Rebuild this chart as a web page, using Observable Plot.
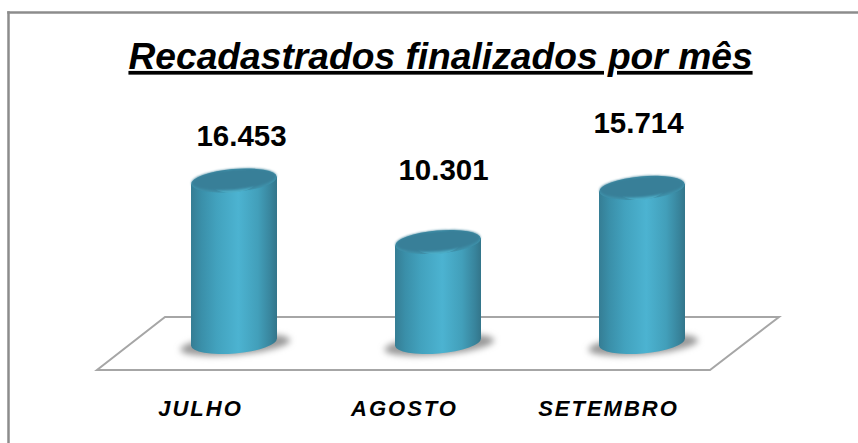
<!DOCTYPE html>
<html><head><meta charset="utf-8">
<script src="https://cdn.jsdelivr.net/npm/d3@7"></script>
<script src="https://cdn.jsdelivr.net/npm/@observablehq/plot@0.6"></script>
<style>html,body{margin:0;padding:0;background:#fff}svg{display:block}</style>
</head><body><div id="chart"></div>
<script>
const chartTitle = "Recadastrados finalizados por mês";
const categories = ["JULHO", "AGOSTO", "SETEMBRO"];
const values = [16453, 10301, 15714];
const valueLabels = ["16.453", "10.301", "15.714"];
const table = categories.map((month, i) => ({month, value: values[i], label: valueLabels[i]}));

const FONT = "Liberation Sans, Arial, sans-serif";
const NS = "http://www.w3.org/2000/svg";
const TILT = 5, RY = 11.5;

function el(doc, name, attrs) {
  const n = doc.createElementNS(NS, name);
  for (const k in attrs) n.setAttribute(k, attrs[k]);
  return n;
}

// Floor plane, placed from the x and y scales
function floor(index, scales, values, dims, context) {
  const doc = context.document;
  const base = scales.y(0);
  const left = scales.x(categories[0]);
  const right = scales.x(categories[categories.length - 1]) + 86;
  const pts = [[left - 94, base + 25], [right + 25, base + 25], [right + 94, base - 28], [left - 26, base - 28]];
  return el(doc, "polygon", {points: pts.join(" "), fill: "#fff", stroke: "#a6a6a6", "stroke-width": 2});
}

// Turns each bar the library drew into a cylinder
function cylinder(index, scales, vals, dims, context, next) {
  const g = next(index, scales, vals, dims, context);
  const doc = context.document;
  const defs = el(doc, "defs", {});
  const grad = el(doc, "linearGradient", {id: "body", x1: 0, x2: 1, y1: 0, y2: 0});
  [[0, "#357d94"], [0.12, "#3a8fa9"], [0.3, "#42a2be"], [0.55, "#4cb3d1"], [0.78, "#429fba"], [0.93, "#38849c"], [1, "#33758a"]]
    .forEach(([o, c]) => grad.appendChild(el(doc, "stop", {offset: o, "stop-color": c})));
  defs.appendChild(grad);
  const blur = el(doc, "filter", {id: "soft", x: "-30%", y: "-80%", width: "160%", height: "260%"});
  blur.appendChild(el(doc, "feGaussianBlur", {stdDeviation: 3}));
  defs.appendChild(blur);
  const blur2 = el(doc, "filter", {id: "soft2", x: "-10%", y: "-30%", width: "120%", height: "160%"});
  blur2.appendChild(el(doc, "feGaussianBlur", {stdDeviation: 1.2}));
  defs.appendChild(blur2);
  g.insertBefore(defs, g.firstChild);
  for (const rect of [...g.querySelectorAll("rect")]) {
    const x = +rect.getAttribute("x"), w = +rect.getAttribute("width");
    const top = +rect.getAttribute("y"), h = +rect.getAttribute("height");
    const cx = x + w / 2, a = w / 2, dy = a * Math.sin(TILT * Math.PI / 180);
    const bot = top + h - 3;
    const rot = `rotate(${-TILT} ${cx} ${top})`;
    g.insertBefore(el(doc, "ellipse", {cx: cx + 1, cy: bot + 3, rx: a + 12, ry: RY - 1.5, fill: "#999999", filter: "url(#soft)",
      transform: `rotate(${-TILT} ${cx} ${bot})`}), rect);
    const body = el(doc, "path", {fill: "url(#body)",
      d: `M${x} ${top + dy}L${x} ${bot + dy}A${a} ${RY} ${-TILT} 0 0 ${x + w} ${bot - dy}L${x + w} ${top - dy}Z`});
    g.insertBefore(body, rect);
    g.insertBefore(el(doc, "ellipse", {cx, cy: top, rx: a, ry: RY, fill: "#3f92ab", transform: rot}), rect);
    g.insertBefore(el(doc, "ellipse", {cx, cy: top + 0.6, rx: a * 0.55, ry: RY, fill: "#4db0ca", transform: rot}), rect);
    g.insertBefore(el(doc, "ellipse", {cx, cy: top - 1, rx: a - 0.5, ry: RY - 1, fill: "#397f98", filter: "url(#soft2)", transform: rot}), rect);
    rect.remove();
  }
  return g;
}

function textStyle(style) {
  return (index, scales, vals, dims, context, next) => {
    const g = next(index, scales, vals, dims, context);
    g.querySelectorAll("text").forEach(t => Object.assign(t.style, style));
    return g;
  };
}

const labelOffsets = {JULHO: [7, -44], AGOSTO: [5, -72], SETEMBRO: [-4, -65]};

const plot = Plot.plot({
  width: 858, height: 443,
  marginLeft: 8, marginTop: 12, marginRight: 0, marginBottom: 0,
  x: {domain: categories, range: [73, 803], padding: 0.578, axis: null},
  y: {domain: [0, 20000], range: [345, 145], axis: null},
  marks: [
    Plot.frame({anchor: "top", stroke: "#8c8c8c", strokeWidth: 2.5}),
    Plot.frame({anchor: "left", stroke: "#8c8c8c", strokeWidth: 2.5}),
    floor,
    Plot.barY(table, {x: "month", y: "value", fill: "#42a2be", render: cylinder}),
    ...table.map(d => Plot.text([d], {
      x: "month", y: "value", text: "label", dx: labelOffsets[d.month][0], dy: labelOffsets[d.month][1],
      fontFamily: FONT, fontSize: 29.5, fontWeight: "bold", fill: "#000"
    })),
    Plot.text(categories, {
      x: d => d, text: d => d, frameAnchor: "bottom", dx: -34, dy: -28,
      fontFamily: FONT, fontSize: 22, fontWeight: "bold", fontStyle: "italic", fill: "#000",
      render: textStyle({letterSpacing: "2px"})
    }),
    Plot.text([chartTitle], {
      text: d => d, frameAnchor: "top", dx: 7, dy: 30,
      fontFamily: FONT, fontSize: 37.2, fontWeight: "bold", fontStyle: "italic", fill: "#000",
      render: textStyle({textDecoration: "underline", textDecorationSkipInk: "none", textDecorationThickness: "3.5px", textUnderlineOffset: "5px"})
    })
  ]
});
document.getElementById("chart").appendChild(plot);
</script></body></html>
